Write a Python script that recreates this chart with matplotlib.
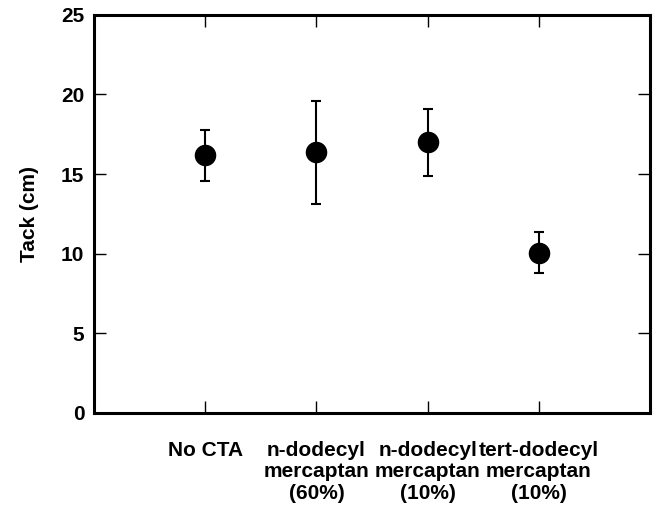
import matplotlib
matplotlib.use("Agg")
import matplotlib.pyplot as plt  # noqa: E402

# tack measured per chain-transfer agent
labels = ["No CTA", "n-dodecyl\nmercaptan\n(60%)", "n-dodecyl\nmercaptan\n(10%)",
          "tert-dodecyl\nmercaptan\n(10%)"]
tack = [16.2, 16.4, 17.0, 10.05]
err_low = [1.65, 3.25, 2.1, 1.25]
err_high = [1.55, 3.2, 2.1, 1.3]
yticks = [0, 5, 10, 15, 20, 25]

plt.rcParams["font.family"] = ["Liberation Sans", "DejaVu Sans"]
plt.rcParams["font.weight"] = "bold"

fig, ax = plt.subplots(figsize=(6.58, 5.11), dpi=100)
fig.subplots_adjust(left=0.143, right=0.988, top=0.971, bottom=0.192)

xs = list(range(1, len(tack) + 1))
ax.errorbar(xs, tack, yerr=[err_low, err_high], fmt="o", color="black",
            ms=14.5, elinewidth=1.5, capsize=3.3, capthick=1.5)

ax.set_xlim(0, 5)
ax.set_ylim(0, 25)
ax.set_xticks(xs)
ax.set_xticklabels(labels, fontsize=15, fontweight="bold", linespacing=1.18)
ax.set_yticks(yticks)
ax.set_yticklabels([str(v) for v in yticks], fontsize=15, fontweight="bold")
ax.set_ylabel("Tack (cm)", fontsize=15, fontweight="bold", labelpad=16)

for s in ax.spines.values():
    s.set_linewidth(2.2)
ax.tick_params(axis="both", direction="in", length=8.5, width=1.0,
               top=True, right=True)
ax.tick_params(axis="x", pad=20)
ax.tick_params(axis="y", pad=7)

fig.savefig("out.png", dpi=100)
